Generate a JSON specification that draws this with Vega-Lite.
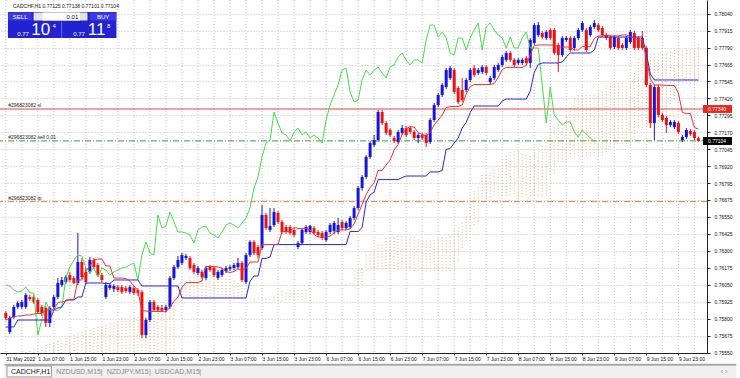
{
"$schema": "https://vega.github.io/schema/vega-lite/v6.json",
"width": 707, "height": 353,
"autosize": {"type": "none"},
"padding": {"left": 0, "top": 0, "right": 33, "bottom": 25},
"background": "white",
"config": {"view": {"stroke": null}, "font": "Liberation Sans", "text": {"font": "Liberation Sans"}, "axis": {"labelOverlap": false}},
"resolve": {"axis": {"x": "independent", "y": "independent"}},
"data": {"values": [
{"i":0,"o":0.75843,"h":0.75857,"l":0.75791,"c":0.75806,"t":0.75791,"k":0.7574,"a":0.75483,"b":0.75351,"ch":0.76048},
{"i":1,"o":0.75703,"h":0.75821,"l":0.75688,"c":0.75806,"t":0.75806,"k":0.7574,"a":0.75498,"b":0.75351,"ch":0.76041},
{"i":2,"o":0.75813,"h":0.75901,"l":0.75799,"c":0.75887,"t":0.75813,"k":0.7574,"a":0.75512,"b":0.75351,"ch":0.76011},
{"i":3,"o":0.75887,"h":0.75931,"l":0.75872,"c":0.75916,"t":0.75821,"k":0.75791,"a":0.7552,"b":0.75351,"ch":0.75997},
{"i":4,"o":0.75887,"h":0.75938,"l":0.75872,"c":0.75923,"t":0.75821,"k":0.75791,"a":0.75534,"b":0.75351,"ch":0.76004},
{"i":5,"o":0.75887,"h":0.75989,"l":0.75872,"c":0.75975,"t":0.75828,"k":0.75791,"a":0.75556,"b":0.75351,"ch":0.76033},
{"i":6,"o":0.7596,"h":0.75975,"l":0.75931,"c":0.75945,"t":0.75828,"k":0.75791,"a":0.75564,"b":0.75351,"ch":0.75989},
{"i":7,"o":0.7596,"h":0.75975,"l":0.75909,"c":0.75923,"t":0.75835,"k":0.75791,"a":0.75578,"b":0.75351,"ch":0.75989},
{"i":8,"o":0.75938,"h":0.75953,"l":0.75835,"c":0.7585,"t":0.75839,"k":0.75791,"a":0.75586,"b":0.75351,"ch":0.75681},
{"i":9,"o":0.75887,"h":0.75901,"l":0.75821,"c":0.75843,"t":0.75839,"k":0.75791,"a":0.75593,"b":0.75351,"ch":0.75791},
{"i":10,"o":0.75879,"h":0.75894,"l":0.7574,"c":0.75769,"t":0.75865,"k":0.75791,"a":0.75608,"b":0.75351,"ch":0.75923},
{"i":11,"o":0.75769,"h":0.75894,"l":0.7574,"c":0.75879,"t":0.75865,"k":0.75791,"a":0.75615,"b":0.75351,"ch":0.75865},
{"i":12,"o":0.75887,"h":0.75975,"l":0.75872,"c":0.7596,"t":0.75865,"k":0.75865,"a":0.75622,"b":0.75351,"ch":0.75865},
{"i":13,"o":0.7596,"h":0.76099,"l":0.75945,"c":0.76063,"t":0.7592,"k":0.75879,"a":0.75637,"b":0.75351,"ch":0.7586},
{"i":14,"o":0.76048,"h":0.76107,"l":0.76033,"c":0.76085,"t":0.75923,"k":0.75887,"a":0.75644,"b":0.75351,"ch":0.75887},
{"i":15,"o":0.7607,"h":0.76121,"l":0.76055,"c":0.76107,"t":0.75931,"k":0.75938,"a":0.75659,"b":0.75351,"ch":0.76099},
{"i":16,"o":0.76121,"h":0.76144,"l":0.7607,"c":0.76085,"t":0.75942,"k":0.75938,"a":0.75666,"b":0.75351,"ch":0.7618},
{"i":17,"o":0.76099,"h":0.76114,"l":0.76055,"c":0.76063,"t":0.75942,"k":0.75938,"a":0.75681,"b":0.75351,"ch":0.76232},
{"i":18,"o":0.76063,"h":0.7643,"l":0.76048,"c":0.76217,"t":0.76085,"k":0.7596,"a":0.75688,"b":0.75351,"ch":0.76268},
{"i":19,"o":0.76217,"h":0.76246,"l":0.76092,"c":0.76107,"t":0.76085,"k":0.7596,"a":0.75703,"b":0.75351,"ch":0.76261},
{"i":20,"o":0.76144,"h":0.76173,"l":0.76055,"c":0.7607,"t":0.76151,"k":0.76063,"a":0.7571,"b":0.75351,"ch":0.76173},
{"i":21,"o":0.76144,"h":0.76254,"l":0.76129,"c":0.76232,"t":0.76188,"k":0.76063,"a":0.75718,"b":0.75351,"ch":0.76144},
{"i":22,"o":0.76232,"h":0.76246,"l":0.76166,"c":0.7618,"t":0.76232,"k":0.76063,"a":0.75732,"b":0.75351,"ch":0.76173},
{"i":23,"o":0.76195,"h":0.7621,"l":0.76107,"c":0.76121,"t":0.76239,"k":0.76063,"a":0.7574,"b":0.75351,"ch":0.76107},
{"i":24,"o":0.76121,"h":0.76136,"l":0.7607,"c":0.76085,"t":0.76239,"k":0.76063,"a":0.75747,"b":0.75351,"ch":0.76173},
{"i":25,"o":0.7596,"h":0.7607,"l":0.75945,"c":0.76048,"t":0.76188,"k":0.76059,"a":0.75754,"b":0.75351,"ch":0.76158},
{"i":26,"o":0.76026,"h":0.76063,"l":0.76011,"c":0.76048,"t":0.76188,"k":0.76059,"a":0.75766,"b":0.75351,"ch":0.76121},
{"i":27,"o":0.76019,"h":0.76055,"l":0.75997,"c":0.76041,"t":0.76099,"k":0.76085,"a":0.75773,"b":0.75351,"ch":0.76144},
{"i":28,"o":0.76033,"h":0.76048,"l":0.75997,"c":0.76011,"t":0.76099,"k":0.76085,"a":0.75777,"b":0.75351,"ch":0.76158},
{"i":29,"o":0.76033,"h":0.76048,"l":0.75982,"c":0.75997,"t":0.76099,"k":0.76085,"a":0.75806,"b":0.75351,"ch":0.76173},
{"i":30,"o":0.76026,"h":0.76041,"l":0.75989,"c":0.76004,"t":0.76096,"k":0.76085,"a":0.75806,"b":0.75351,"ch":0.7618},
{"i":31,"o":0.75997,"h":0.76048,"l":0.75982,"c":0.76033,"t":0.76077,"k":0.76085,"a":0.7581,"b":0.75351,"ch":0.76195},
{"i":32,"o":0.76026,"h":0.76041,"l":0.75975,"c":0.75989,"t":0.76041,"k":0.76085,"a":0.7581,"b":0.75351,"ch":0.7621},
{"i":33,"o":0.76011,"h":0.76026,"l":0.75967,"c":0.75989,"t":0.76008,"k":0.76085,"a":0.75813,"b":0.75351,"ch":0.76085},
{"i":34,"o":0.75997,"h":0.76011,"l":0.75659,"c":0.75681,"t":0.75861,"k":0.76041,"a":0.75815,"b":0.75351,"ch":0.76268},
{"i":35,"o":0.75681,"h":0.75806,"l":0.75659,"c":0.75791,"t":0.75857,"k":0.76041,"a":0.75815,"b":0.75351,"ch":0.76364},
{"i":36,"o":0.75791,"h":0.75938,"l":0.75777,"c":0.75923,"t":0.75854,"k":0.76041,"a":0.75828,"b":0.75351,"ch":0.76283},
{"i":37,"o":0.75923,"h":0.75938,"l":0.7585,"c":0.75865,"t":0.75854,"k":0.76041,"a":0.75828,"b":0.75351,"ch":0.76268},
{"i":38,"o":0.75887,"h":0.75901,"l":0.7585,"c":0.75865,"t":0.75854,"k":0.76041,"a":0.75865,"b":0.75351,"ch":0.76562},
{"i":39,"o":0.7588,"h":0.75901,"l":0.7585,"c":0.7586,"t":0.75854,"k":0.76041,"a":0.759,"b":0.75351,"ch":0.76466},
{"i":40,"o":0.75865,"h":0.75901,"l":0.7585,"c":0.75887,"t":0.7585,"k":0.76041,"a":0.75905,"b":0.75351,"ch":0.76481},
{"i":41,"o":0.75887,"h":0.76114,"l":0.75872,"c":0.76099,"t":0.75887,"k":0.76041,"a":0.75935,"b":0.75351,"ch":0.76584},
{"i":42,"o":0.76099,"h":0.76195,"l":0.76085,"c":0.7618,"t":0.75927,"k":0.76041,"a":0.7594,"b":0.75351,"ch":0.76511},
{"i":43,"o":0.7618,"h":0.76261,"l":0.76166,"c":0.76232,"t":0.7596,"k":0.76041,"a":0.7594,"b":0.75938,"ch":0.76437},
{"i":44,"o":0.7621,"h":0.76283,"l":0.76195,"c":0.76268,"t":0.7603,"k":0.75953,"a":0.76023,"b":0.75938,"ch":0.76437},
{"i":45,"o":0.76246,"h":0.76276,"l":0.76232,"c":0.76261,"t":0.76066,"k":0.75953,"a":0.76023,"b":0.75938,"ch":0.7643},
{"i":46,"o":0.76246,"h":0.76261,"l":0.76158,"c":0.76173,"t":0.76066,"k":0.75953,"a":0.76107,"b":0.75938,"ch":0.76415},
{"i":47,"o":0.76195,"h":0.7621,"l":0.76129,"c":0.76144,"t":0.76066,"k":0.75953,"a":0.76126,"b":0.75938,"ch":0.76356},
{"i":48,"o":0.76136,"h":0.76188,"l":0.76121,"c":0.76173,"t":0.76066,"k":0.75953,"a":0.76148,"b":0.75938,"ch":0.76452},
{"i":49,"o":0.76144,"h":0.76158,"l":0.76092,"c":0.76107,"t":0.76077,"k":0.75953,"a":0.76151,"b":0.75938,"ch":0.76474},
{"i":50,"o":0.76099,"h":0.76188,"l":0.76085,"c":0.76173,"t":0.76184,"k":0.75953,"a":0.76151,"b":0.75938,"ch":0.76481},
{"i":51,"o":0.7618,"h":0.76195,"l":0.76144,"c":0.76158,"t":0.76184,"k":0.75953,"a":0.76124,"b":0.75938,"ch":0.7643},
{"i":52,"o":0.76173,"h":0.76188,"l":0.76107,"c":0.76121,"t":0.76184,"k":0.75953,"a":0.76124,"b":0.75938,"ch":0.76415},
{"i":53,"o":0.76099,"h":0.76158,"l":0.76085,"c":0.76144,"t":0.7618,"k":0.75953,"a":0.76092,"b":0.75938,"ch":0.76393},
{"i":54,"o":0.76121,"h":0.76173,"l":0.76107,"c":0.76158,"t":0.76173,"k":0.75953,"a":0.76092,"b":0.75938,"ch":0.76437},
{"i":55,"o":0.76151,"h":0.76188,"l":0.76136,"c":0.76173,"t":0.76147,"k":0.75953,"a":0.76092,"b":0.75938,"ch":0.76488},
{"i":56,"o":0.76166,"h":0.76195,"l":0.76151,"c":0.7618,"t":0.7614,"k":0.75953,"a":0.76091,"b":0.75938,"ch":0.76503},
{"i":57,"o":0.76173,"h":0.7621,"l":0.76158,"c":0.76195,"t":0.76147,"k":0.75953,"a":0.76081,"b":0.75938,"ch":0.76488},
{"i":58,"o":0.7618,"h":0.76246,"l":0.76166,"c":0.7621,"t":0.76166,"k":0.75953,"a":0.76063,"b":0.75938,"ch":0.76466},
{"i":59,"o":0.7621,"h":0.76224,"l":0.7607,"c":0.76085,"t":0.76158,"k":0.75953,"a":0.76047,"b":0.75938,"ch":0.76503},
{"i":60,"o":0.7607,"h":0.76283,"l":0.76055,"c":0.76268,"t":0.76169,"k":0.75953,"a":0.75951,"b":0.75938,"ch":0.7654},
{"i":61,"o":0.76268,"h":0.76378,"l":0.76254,"c":0.76364,"t":0.76217,"k":0.76077,"a":0.75949,"b":0.75923,"ch":0.76613},
{"i":62,"o":0.76364,"h":0.76378,"l":0.76268,"c":0.76283,"t":0.76217,"k":0.76114,"a":0.75948,"b":0.75923,"ch":0.7676},
{"i":63,"o":0.76327,"h":0.76342,"l":0.76246,"c":0.76268,"t":0.76217,"k":0.76114,"a":0.75948,"b":0.75923,"ch":0.76841},
{"i":64,"o":0.7632,"h":0.76635,"l":0.76305,"c":0.76562,"t":0.76345,"k":0.76243,"a":0.75948,"b":0.75923,"ch":0.76988},
{"i":65,"o":0.76562,"h":0.76577,"l":0.76452,"c":0.76466,"t":0.76345,"k":0.76243,"a":0.75948,"b":0.75923,"ch":0.7709},
{"i":66,"o":0.76452,"h":0.76613,"l":0.76437,"c":0.76481,"t":0.76345,"k":0.76254,"a":0.75946,"b":0.75923,"ch":0.77112},
{"i":67,"o":0.76488,"h":0.76613,"l":0.76474,"c":0.76584,"t":0.76345,"k":0.76345,"a":0.75964,"b":0.75923,"ch":0.77318},
{"i":68,"o":0.76577,"h":0.76591,"l":0.76496,"c":0.76511,"t":0.76345,"k":0.76345,"a":0.75984,"b":0.75923,"ch":0.77237},
{"i":69,"o":0.76511,"h":0.76525,"l":0.76422,"c":0.76437,"t":0.76441,"k":0.76345,"a":0.76001,"b":0.75923,"ch":0.77164},
{"i":70,"o":0.76474,"h":0.76488,"l":0.76422,"c":0.76437,"t":0.76441,"k":0.76345,"a":0.75992,"b":0.75923,"ch":0.77149},
{"i":71,"o":0.76474,"h":0.76488,"l":0.76415,"c":0.7643,"t":0.76441,"k":0.76345,"a":0.7601,"b":0.75923,"ch":0.77105},
{"i":72,"o":0.76452,"h":0.76466,"l":0.764,"c":0.76415,"t":0.7647,"k":0.76345,"a":0.7601,"b":0.75923,"ch":0.77171},
{"i":73,"o":0.76327,"h":0.76371,"l":0.76312,"c":0.76356,"t":0.76463,"k":0.76345,"a":0.7601,"b":0.75923,"ch":0.772},
{"i":74,"o":0.76356,"h":0.76466,"l":0.76342,"c":0.76452,"t":0.76463,"k":0.76345,"a":0.7601,"b":0.75923,"ch":0.77149},
{"i":75,"o":0.76437,"h":0.76488,"l":0.76422,"c":0.76474,"t":0.76463,"k":0.76345,"a":0.76015,"b":0.75923,"ch":0.77171},
{"i":76,"o":0.76437,"h":0.76488,"l":0.76422,"c":0.76481,"t":0.76452,"k":0.76345,"a":0.76069,"b":0.75923,"ch":0.77127},
{"i":77,"o":0.76466,"h":0.76481,"l":0.76415,"c":0.7643,"t":0.76419,"k":0.76345,"a":0.76069,"b":0.76044,"ch":0.77149},
{"i":78,"o":0.76437,"h":0.76452,"l":0.764,"c":0.76415,"t":0.764,"k":0.76345,"a":0.76069,"b":0.76044,"ch":0.77127},
{"i":79,"o":0.7643,"h":0.76444,"l":0.76378,"c":0.76393,"t":0.764,"k":0.76345,"a":0.76067,"b":0.76044,"ch":0.7709},
{"i":80,"o":0.76378,"h":0.76452,"l":0.76364,"c":0.76437,"t":0.764,"k":0.76345,"a":0.76063,"b":0.76044,"ch":0.77259},
{"i":81,"o":0.76437,"h":0.76503,"l":0.76422,"c":0.76488,"t":0.76408,"k":0.76345,"a":0.7605,"b":0.76044,"ch":0.77369},
{"i":82,"o":0.76444,"h":0.76518,"l":0.76422,"c":0.76503,"t":0.7643,"k":0.76345,"a":0.76047,"b":0.76044,"ch":0.77443},
{"i":83,"o":0.76437,"h":0.7654,"l":0.76422,"c":0.76488,"t":0.76452,"k":0.76345,"a":0.7605,"b":0.76044,"ch":0.77516},
{"i":84,"o":0.76511,"h":0.76525,"l":0.76452,"c":0.76466,"t":0.76452,"k":0.76345,"a":0.7606,"b":0.76044,"ch":0.77626},
{"i":85,"o":0.76466,"h":0.76518,"l":0.76452,"c":0.76503,"t":0.76452,"k":0.76345,"a":0.76056,"b":0.76044,"ch":0.77641},
{"i":86,"o":0.76474,"h":0.76555,"l":0.76459,"c":0.7654,"t":0.76459,"k":0.76441,"a":0.76061,"b":0.76044,"ch":0.77465},
{"i":87,"o":0.7654,"h":0.76628,"l":0.76525,"c":0.76613,"t":0.76496,"k":0.76441,"a":0.76147,"b":0.76044,"ch":0.77391},
{"i":88,"o":0.76613,"h":0.76775,"l":0.76599,"c":0.7676,"t":0.76569,"k":0.76441,"a":0.76166,"b":0.76044,"ch":0.77406},
{"i":89,"o":0.7676,"h":0.76855,"l":0.7674,"c":0.76841,"t":0.76639,"k":0.7647,"a":0.76166,"b":0.76044,"ch":0.77553},
{"i":90,"o":0.76841,"h":0.77002,"l":0.76826,"c":0.76988,"t":0.76712,"k":0.76657,"a":0.76294,"b":0.76147,"ch":0.77626},
{"i":91,"o":0.76988,"h":0.77105,"l":0.76973,"c":0.7709,"t":0.76764,"k":0.76709,"a":0.76294,"b":0.76147,"ch":0.77589},
{"i":92,"o":0.77076,"h":0.77149,"l":0.77061,"c":0.77112,"t":0.76797,"k":0.76731,"a":0.763,"b":0.76147,"ch":0.77626},
{"i":93,"o":0.77112,"h":0.77333,"l":0.77098,"c":0.77318,"t":0.76889,"k":0.76822,"a":0.76345,"b":0.76147,"ch":0.77648},
{"i":94,"o":0.77318,"h":0.77333,"l":0.77222,"c":0.77237,"t":0.76889,"k":0.76822,"a":0.76345,"b":0.76147,"ch":0.77604},
{"i":95,"o":0.77237,"h":0.77252,"l":0.77149,"c":0.77164,"t":0.76929,"k":0.76822,"a":0.76393,"b":0.76147,"ch":0.77567},
{"i":96,"o":0.77186,"h":0.772,"l":0.77134,"c":0.77149,"t":0.76966,"k":0.76822,"a":0.76393,"b":0.76147,"ch":0.77648},
{"i":97,"o":0.77127,"h":0.77142,"l":0.7709,"c":0.77105,"t":0.77039,"k":0.76822,"a":0.76393,"b":0.76147,"ch":0.77663},
{"i":98,"o":0.77098,"h":0.77186,"l":0.77083,"c":0.77171,"t":0.77079,"k":0.76822,"a":0.76408,"b":0.76147,"ch":0.77722},
{"i":99,"o":0.77164,"h":0.77222,"l":0.77149,"c":0.772,"t":0.77153,"k":0.76837,"a":0.76404,"b":0.76147,"ch":0.77751},
{"i":100,"o":0.772,"h":0.77215,"l":0.77134,"c":0.77149,"t":0.77197,"k":0.76848,"a":0.76404,"b":0.76147,"ch":0.777},
{"i":101,"o":0.772,"h":0.77215,"l":0.77156,"c":0.77171,"t":0.77208,"k":0.76848,"a":0.76404,"b":0.76147,"ch":0.77663},
{"i":102,"o":0.77171,"h":0.77186,"l":0.77112,"c":0.77127,"t":0.77208,"k":0.76848,"a":0.76399,"b":0.76147,"ch":0.777},
{"i":103,"o":0.77127,"h":0.77164,"l":0.7709,"c":0.77149,"t":0.77167,"k":0.76848,"a":0.76382,"b":0.76147,"ch":0.777},
{"i":104,"o":0.77149,"h":0.77164,"l":0.77112,"c":0.77127,"t":0.77153,"k":0.76848,"a":0.76373,"b":0.76147,"ch":0.77678},
{"i":105,"o":0.77149,"h":0.77164,"l":0.77061,"c":0.7709,"t":0.77142,"k":0.76848,"a":0.76373,"b":0.76147,"ch":0.77846},
{"i":106,"o":0.77098,"h":0.77274,"l":0.77083,"c":0.77259,"t":0.77167,"k":0.76878,"a":0.76373,"b":0.76147,"ch":0.77956},
{"i":107,"o":0.77259,"h":0.77384,"l":0.77245,"c":0.77369,"t":0.77223,"k":0.76878,"a":0.76377,"b":0.76147,"ch":0.77956},
{"i":108,"o":0.77369,"h":0.77457,"l":0.77355,"c":0.77443,"t":0.77259,"k":0.76878,"a":0.76388,"b":0.76147,"ch":0.77868},
{"i":109,"o":0.77443,"h":0.77531,"l":0.77428,"c":0.77516,"t":0.77296,"k":0.76889,"a":0.76399,"b":0.76147,"ch":0.77905},
{"i":110,"o":0.77501,"h":0.77641,"l":0.77487,"c":0.77626,"t":0.77351,"k":0.77043,"a":0.76399,"b":0.76147,"ch":0.77861},
{"i":111,"o":0.77567,"h":0.77656,"l":0.77553,"c":0.77641,"t":0.77358,"k":0.7705,"a":0.76399,"b":0.76147,"ch":0.77751},
{"i":112,"o":0.77626,"h":0.77641,"l":0.7745,"c":0.77465,"t":0.77358,"k":0.7709,"a":0.7645,"b":0.76147,"ch":0.77736},
{"i":113,"o":0.77494,"h":0.77509,"l":0.77377,"c":0.77391,"t":0.77358,"k":0.77127,"a":0.76469,"b":0.76206,"ch":0.77861},
{"i":114,"o":0.7748,"h":0.77567,"l":0.77391,"c":0.77406,"t":0.77369,"k":0.772,"a":0.76505,"b":0.76312,"ch":0.77861},
{"i":115,"o":0.77479,"h":0.77567,"l":0.77465,"c":0.77553,"t":0.7745,"k":0.77241,"a":0.76555,"b":0.76353,"ch":0.77773},
{"i":116,"o":0.77553,"h":0.77641,"l":0.77538,"c":0.77626,"t":0.77505,"k":0.77314,"a":0.76685,"b":0.76426,"ch":0.77861},
{"i":117,"o":0.77641,"h":0.77663,"l":0.77575,"c":0.77589,"t":0.7752,"k":0.77362,"a":0.76737,"b":0.76478,"ch":0.7792},
{"i":118,"o":0.77604,"h":0.77641,"l":0.77589,"c":0.77626,"t":0.7752,"k":0.77362,"a":0.76764,"b":0.76511,"ch":0.77971},
{"i":119,"o":0.77612,"h":0.77663,"l":0.77597,"c":0.77648,"t":0.7752,"k":0.77362,"a":0.76856,"b":0.76694,"ch":0.77773},
{"i":120,"o":0.77648,"h":0.77663,"l":0.77589,"c":0.77604,"t":0.7752,"k":0.77362,"a":0.76856,"b":0.76694,"ch":0.77942},
{"i":121,"o":0.77538,"h":0.77582,"l":0.77523,"c":0.77567,"t":0.7752,"k":0.77362,"a":0.76876,"b":0.76694,"ch":0.77971},
{"i":122,"o":0.77567,"h":0.77663,"l":0.77553,"c":0.77648,"t":0.77527,"k":0.77362,"a":0.76894,"b":0.76694,"ch":0.7792},
{"i":123,"o":0.77626,"h":0.77678,"l":0.77612,"c":0.77663,"t":0.77571,"k":0.77362,"a":0.76931,"b":0.76694,"ch":0.77883},
{"i":124,"o":0.77663,"h":0.77736,"l":0.77648,"c":0.77722,"t":0.7763,"k":0.77399,"a":0.76951,"b":0.76694,"ch":0.77861},
{"i":125,"o":0.777,"h":0.77766,"l":0.77685,"c":0.77751,"t":0.77645,"k":0.77413,"a":0.76995,"b":0.76694,"ch":0.77788},
{"i":126,"o":0.77751,"h":0.77766,"l":0.77685,"c":0.777,"t":0.77645,"k":0.77413,"a":0.77023,"b":0.76694,"ch":0.77868},
{"i":127,"o":0.777,"h":0.77714,"l":0.77648,"c":0.77663,"t":0.77645,"k":0.77413,"a":0.77028,"b":0.76694,"ch":0.77788},
{"i":128,"o":0.77678,"h":0.77714,"l":0.77663,"c":0.777,"t":0.77645,"k":0.77413,"a":0.77028,"b":0.76694,"ch":0.77788},
{"i":129,"o":0.77678,"h":0.77714,"l":0.77663,"c":0.777,"t":0.77645,"k":0.77413,"a":0.77008,"b":0.76694,"ch":0.77861},
{"i":130,"o":0.77714,"h":0.77729,"l":0.77663,"c":0.77678,"t":0.77659,"k":0.77413,"a":0.77001,"b":0.76694,"ch":0.77905},
{"i":131,"o":0.77678,"h":0.77861,"l":0.77641,"c":0.77846,"t":0.77736,"k":0.77472,"a":0.76995,"b":0.76694,"ch":0.77788},
{"i":132,"o":0.77824,"h":0.77971,"l":0.7781,"c":0.77956,"t":0.77806,"k":0.77608,"a":0.77023,"b":0.76694,"ch":0.77788},
{"i":133,"o":0.77883,"h":0.77979,"l":0.77868,"c":0.77956,"t":0.7781,"k":0.77667,"a":0.77051,"b":0.76694,"ch":0.77788},
{"i":134,"o":0.77898,"h":0.77912,"l":0.77854,"c":0.77868,"t":0.7781,"k":0.77678,"a":0.77069,"b":0.76694,"ch":0.77516},
{"i":135,"o":0.77861,"h":0.7792,"l":0.77846,"c":0.77905,"t":0.7781,"k":0.77678,"a":0.77093,"b":0.76694,"ch":0.77237},
{"i":136,"o":0.7792,"h":0.77934,"l":0.77846,"c":0.77861,"t":0.7781,"k":0.77678,"a":0.77197,"b":0.76848,"ch":0.77501},
{"i":137,"o":0.7792,"h":0.77934,"l":0.77736,"c":0.77751,"t":0.7781,"k":0.77678,"a":0.77204,"b":0.76856,"ch":0.77296},
{"i":138,"o":0.7781,"h":0.77824,"l":0.77612,"c":0.77736,"t":0.77795,"k":0.77678,"a":0.77224,"b":0.76951,"ch":0.77259},
{"i":139,"o":0.77736,"h":0.77876,"l":0.77722,"c":0.77861,"t":0.77795,"k":0.77685,"a":0.77243,"b":0.76951,"ch":0.77222},
{"i":140,"o":0.77846,"h":0.77876,"l":0.77832,"c":0.77861,"t":0.77795,"k":0.77722,"a":0.77285,"b":0.76951,"ch":0.77245},
{"i":141,"o":0.77861,"h":0.77876,"l":0.77758,"c":0.77773,"t":0.77795,"k":0.77751,"a":0.77346,"b":0.7698,"ch":0.77245},
{"i":142,"o":0.77788,"h":0.77876,"l":0.77773,"c":0.77861,"t":0.77773,"k":0.77751,"a":0.7741,"b":0.76984,"ch":0.77171},
{"i":143,"o":0.77861,"h":0.77934,"l":0.77846,"c":0.7792,"t":0.77773,"k":0.77751,"a":0.77441,"b":0.76988,"ch":0.77134},
{"i":144,"o":0.7792,"h":0.77986,"l":0.77905,"c":0.77971,"t":0.77799,"k":0.77751,"a":0.77441,"b":0.76988,"ch":0.77186},
{"i":145,"o":0.7792,"h":0.77934,"l":0.77758,"c":0.77773,"t":0.77799,"k":0.77751,"a":0.77441,"b":0.76988,"ch":0.77156},
{"i":146,"o":0.77883,"h":0.77956,"l":0.77868,"c":0.77942,"t":0.77799,"k":0.77751,"a":0.77441,"b":0.76988,"ch":0.77127},
{"i":147,"o":0.77942,"h":0.77993,"l":0.77927,"c":0.77971,"t":0.77857,"k":0.77773,"a":0.77441,"b":0.76988,"ch":0.77104},
{"i":148,"o":0.77956,"h":0.77971,"l":0.77905,"c":0.7792,"t":0.77876,"k":0.77868,"a":0.77445,"b":0.76988},
{"i":149,"o":0.77934,"h":0.77949,"l":0.77868,"c":0.77883,"t":0.77876,"k":0.77868,"a":0.77467,"b":0.76995},
{"i":150,"o":0.77883,"h":0.77898,"l":0.77846,"c":0.77861,"t":0.77883,"k":0.77868,"a":0.77515,"b":0.77024},
{"i":151,"o":0.77868,"h":0.77883,"l":0.77773,"c":0.77788,"t":0.77876,"k":0.77868,"a":0.77529,"b":0.77054},
{"i":152,"o":0.77795,"h":0.77883,"l":0.7778,"c":0.77868,"t":0.77876,"k":0.77868,"a":0.77529,"b":0.77065},
{"i":153,"o":0.77861,"h":0.77876,"l":0.77773,"c":0.77788,"t":0.77876,"k":0.77868,"a":0.77529,"b":0.77065},
{"i":154,"o":0.7781,"h":0.77824,"l":0.77773,"c":0.77788,"t":0.77883,"k":0.77868,"a":0.77529,"b":0.77065},
{"i":155,"o":0.77788,"h":0.77876,"l":0.77773,"c":0.77861,"t":0.77883,"k":0.77868,"a":0.77529,"b":0.77065},
{"i":156,"o":0.77832,"h":0.7792,"l":0.77817,"c":0.77905,"t":0.77872,"k":0.77868,"a":0.77536,"b":0.77065},
{"i":157,"o":0.77898,"h":0.77912,"l":0.77773,"c":0.77788,"t":0.77861,"k":0.77868,"a":0.77604,"b":0.77112},
{"i":158,"o":0.77861,"h":0.77876,"l":0.77773,"c":0.77788,"t":0.77846,"k":0.77868,"a":0.77707,"b":0.77197},
{"i":159,"o":0.77861,"h":0.77912,"l":0.77773,"c":0.77788,"t":0.77846,"k":0.77868,"a":0.77739,"b":0.772},
{"i":160,"o":0.77788,"h":0.77802,"l":0.77501,"c":0.77516,"t":0.77711,"k":0.77747,"a":0.77744,"b":0.772},
{"i":161,"o":0.77516,"h":0.77531,"l":0.772,"c":0.77237,"t":0.7756,"k":0.77597,"a":0.77744,"b":0.77212},
{"i":162,"o":0.77237,"h":0.77516,"l":0.77112,"c":0.77501,"t":0.77516,"k":0.77553,"a":0.77744,"b":0.77212},
{"i":163,"o":0.77501,"h":0.77516,"l":0.77281,"c":0.77296,"t":0.77516,"k":0.77553,"a":0.77744,"b":0.77212},
{"i":164,"o":0.77296,"h":0.77311,"l":0.77245,"c":0.77259,"t":0.77516,"k":0.77553,"a":0.77737,"b":0.77252},
{"i":165,"o":0.77274,"h":0.77289,"l":0.77164,"c":0.77222,"t":0.77512,"k":0.77553,"a":0.7774,"b":0.77289},
{"i":166,"o":0.77222,"h":0.77259,"l":0.77208,"c":0.77245,"t":0.77512,"k":0.77553,"a":0.77759,"b":0.77362},
{"i":167,"o":0.77208,"h":0.77259,"l":0.77193,"c":0.77245,"t":0.77512,"k":0.77553,"a":0.77773,"b":0.77402},
{"i":168,"o":0.77237,"h":0.77252,"l":0.77156,"c":0.77171,"t":0.77457,"k":0.77553,"a":0.77762,"b":0.77476},
{"i":169,"o":0.77112,"h":0.77149,"l":0.77098,"c":0.77134,"t":0.77314,"k":0.77553,"a":0.77762,"b":0.7752},
{"i":170,"o":0.77134,"h":0.772,"l":0.7712,"c":0.77186,"t":0.77307,"k":0.77553,"a":0.77775,"b":0.77523},
{"i":171,"o":0.77178,"h":0.77193,"l":0.77142,"c":0.77156,"t":0.77307,"k":0.77553,"a":0.77775,"b":0.77523},
{"i":172,"o":0.77171,"h":0.77186,"l":0.77112,"c":0.77127,"t":0.77204,"k":0.77553,"a":0.77775,"b":0.77523},
{"i":173,"o":0.77125,"h":0.77138,"l":0.77101,"c":0.77104,"t":0.77193,"k":0.77553,"a":0.77815,"b":0.77527}
]},
"layer": [
{"mark": {"type": "rule", "color": "#f4a460", "strokeDash": [1, 2], "strokeWidth": 1, "opacity": 0.9, "clip": true},
 "encoding": {
  "x": {"field": "i", "type": "quantitative", "title": null,
   "scale": {"domain": [-0.2, 173.9], "nice": false, "zero": false},
   "axis": {"values": [0,8,16,24,32,40,48,56,64,72,80,88,96,104,112,120,128,136,144,152,160,168],
    "labelExpr": "['31 May 2022','1 Jun 07:00','1 Jun 15:00','1 Jun 23:00','2 Jun 07:00','2 Jun 15:00','2 Jun 23:00','3 Jun 07:00','3 Jun 15:00','3 Jun 23:00','6 Jun 07:00','6 Jun 15:00','6 Jun 23:00','7 Jun 07:00','7 Jun 15:00','7 Jun 23:00','8 Jun 07:00','8 Jun 15:00','8 Jun 23:00','9 Jun 07:00','9 Jun 15:00','9 Jun 23:00'][round(datum.value / 8)]",
    "grid": false,
    "domainColor": "#222222", "domainWidth": 1,
    "tickColor": "#222222", "tickSize": 2,
    "labelAlign": "left", "labelBaseline": "top", "labelFontSize": 5, "labelPadding": 1, "labelColor": "#111111",
    "labelOverlap": false, "labelBound": false, "labelFlush": false}},
  "y": {"field": "a", "type": "quantitative", "title": null,
   "scale": {"domain": [0.75549, 0.7814], "nice": false, "zero": false},
   "axis": {"orient": "right", "values": [0.7804,0.77915,0.7779,0.77665,0.77545,0.7742,0.77295,0.7717,0.77045,0.7692,0.76795,0.76675,0.7655,0.76425,0.763,0.76175,0.7605,0.75925,0.758,0.75675,0.7555],
    "format": ".5f", "grid": true, "gridColor": "#c4c4c4", "gridDash": [1, 2], "gridWidth": 1,
    "domainColor": "#222222", "domainWidth": 1, "tickColor": "#222222", "tickSize": 3,
    "labelFontSize": 5, "labelPadding": 4, "labelColor": "#111111", "labelOverlap": false, "labelBound": false, "labelFlush": false}},
  "y2": {"field": "b"}}},
{"transform": [{"filter": "datum.i % 4 == 0"}],
 "mark": {"type": "rule", "color": "#c4c4c4", "strokeDash": [1, 2], "strokeWidth": 1},
 "encoding": {"x": {"field": "i", "type": "quantitative", "axis": null}}},
{"data": {"values": [{}]}, "mark": {"type": "rule", "color": "#ee4040", "strokeWidth": 1},
 "encoding": {"y": {"datum": 0.7734, "type": "quantitative", "axis": null}}},
{"data": {"values": [{}]}, "mark": {"type": "rule", "color": "#3a9a3a", "strokeWidth": 1, "strokeDash": [6, 2, 1, 2]},
 "encoding": {"y": {"datum": 0.77106, "type": "quantitative", "axis": null}}},
{"data": {"values": [{}]}, "mark": {"type": "rule", "color": "#f07a40", "strokeWidth": 1, "strokeDash": [6, 2, 1, 2]},
 "encoding": {"y": {"datum": 0.7666, "type": "quantitative", "axis": null}}},
{"data": {"values": [{"txt": "#296823082 sl", "p": 0.7734}, {"txt": "#296823082 sell 0.01", "p": 0.77106}, {"txt": "#296823082 tp", "p": 0.7666}]},
 "mark": {"type": "text", "align": "left", "baseline": "bottom", "dy": -1, "fontSize": 5, "color": "#222222"},
 "encoding": {"x": {"datum": 0.6, "type": "quantitative", "axis": null}, "y": {"field": "p", "type": "quantitative", "axis": null}, "text": {"field": "txt"}}},
{"mark": {"type": "rule", "strokeWidth": 1},
 "encoding": {"x": {"field": "i", "type": "quantitative", "axis": null}, "y": {"field": "l", "type": "quantitative", "axis": null}, "y2": {"field": "h"},
  "color": {"condition": {"test": "datum.c < datum.o", "value": "#ee1111"}, "value": "#1414dd"}}},
{"mark": {"type": "bar", "width": 3},
 "encoding": {"x": {"field": "i", "type": "quantitative", "axis": null}, "y": {"field": "o", "type": "quantitative", "axis": null}, "y2": {"field": "c"},
  "color": {"condition": {"test": "datum.c < datum.o", "value": "#ee1111"}, "value": "#1414dd"}}},
{"transform": [{"filter": "isValid(datum.ch)"}],
 "mark": {"type": "line", "color": "#44dd44", "strokeWidth": 1},
 "encoding": {"x": {"field": "i", "type": "quantitative", "axis": null}, "y": {"field": "ch", "type": "quantitative", "axis": null}}},
{"mark": {"type": "line", "color": "#2525f0", "strokeWidth": 1},
 "encoding": {"x": {"field": "i", "type": "quantitative", "axis": null}, "y": {"field": "k", "type": "quantitative", "axis": null}}},
{"mark": {"type": "line", "color": "#f03030", "strokeWidth": 1},
 "encoding": {"x": {"field": "i", "type": "quantitative", "axis": null}, "y": {"field": "t", "type": "quantitative", "axis": null}}},
{"data": {"values": [{}]}, "mark": {"type": "rect", "color": "#e8271f"},
 "encoding": {"x": {"datum": 174.15, "type": "quantitative", "axis": null}, "x2": {"datum": 181.4}, "y": {"datum": 0.77369, "type": "quantitative", "axis": null}, "y2": {"datum": 0.77311}}},
{"data": {"values": [{}]}, "mark": {"type": "rect", "color": "#000000"},
 "encoding": {"x": {"datum": 174.15, "type": "quantitative", "axis": null}, "x2": {"datum": 181.4}, "y": {"datum": 0.77134, "type": "quantitative", "axis": null}, "y2": {"datum": 0.77076}}},
{"data": {"values": [{"txt": "0.77340", "p": 0.7734}, {"txt": "0.77104", "p": 0.77105}]},
 "mark": {"type": "text", "align": "left", "baseline": "middle", "fontSize": 5, "color": "#ffffff"},
 "encoding": {"x": {"datum": 175.4, "type": "quantitative", "axis": null}, "y": {"field": "p", "type": "quantitative", "axis": null}, "text": {"field": "txt"}}},
{"data": {"values": [{}]}, "mark": {"type": "text", "align": "left", "baseline": "middle", "fontSize": 5, "color": "#111111", "text": "CADCHF,H1  0.77125 0.77138 0.77101 0.77104"},
 "encoding": {"x": {"datum": 1.8, "type": "quantitative", "axis": null}, "y": {"datum": 0.78096, "type": "quantitative", "axis": null}}},
{"data": {"values": [{}]}, "mark": {"type": "rect", "color": "#2222d2"},
 "encoding": {"x": {"datum": 0.54, "type": "quantitative", "axis": null}, "x2": {"datum": 27.63}, "y": {"datum": 0.78052, "type": "quantitative", "axis": null}, "y2": {"datum": 0.77861}}},
{"data": {"values": [{}]}, "mark": {"type": "rect", "color": "#3a3ae6"},
 "encoding": {"x": {"datum": 0.6, "type": "quantitative", "axis": null}, "x2": {"datum": 6.5}, "y": {"datum": 0.78048, "type": "quantitative", "axis": null}, "y2": {"datum": 0.7799}}},
{"data": {"values": [{}]}, "mark": {"type": "rect", "color": "#3a3ae6"},
 "encoding": {"x": {"datum": 21.0, "type": "quantitative", "axis": null}, "x2": {"datum": 27.6}, "y": {"datum": 0.78048, "type": "quantitative", "axis": null}, "y2": {"datum": 0.7799}}},
{"data": {"values": [{}]}, "mark": {"type": "rect", "color": "#e4e4e4"},
 "encoding": {"x": {"datum": 6.94, "type": "quantitative", "axis": null}, "x2": {"datum": 20.4}, "y": {"datum": 0.78048, "type": "quantitative", "axis": null}, "y2": {"datum": 0.7799}}},
{"data": {"values": [{}]}, "mark": {"type": "rect", "color": "#ffffff"},
 "encoding": {"x": {"datum": 9.16, "type": "quantitative", "axis": null}, "x2": {"datum": 18.51}, "y": {"datum": 0.78048, "type": "quantitative", "axis": null}, "y2": {"datum": 0.7799}}},
{"data": {"values": [{}]}, "mark": {"type": "rule", "color": "#6a6ae8", "strokeWidth": 1},
 "encoding": {"x": {"datum": 13.95, "type": "quantitative", "axis": null}, "y": {"datum": 0.7798, "type": "quantitative", "axis": null}, "y2": {"datum": 0.77862}}},
{"data": {"values": [{"txt": "SELL", "x": 3.6, "p": 0.78018, "s": 6}, {"txt": "BUY", "x": 24.3, "p": 0.78018, "s": 6}, {"txt": "0.77", "x": 4.3, "p": 0.77888, "s": 6}, {"txt": "0.77", "x": 18.3, "p": 0.77888, "s": 6}, {"txt": "4", "x": 12.1, "p": 0.77952, "s": 6}, {"txt": "8", "x": 25.7, "p": 0.77952, "s": 6}]},
 "mark": {"type": "text", "align": "center", "baseline": "middle", "color": "#ffffff"},
 "encoding": {"x": {"field": "x", "type": "quantitative", "axis": null}, "y": {"field": "p", "type": "quantitative", "axis": null}, "text": {"field": "txt"}, "size": {"field": "s", "type": "quantitative", "scale": null, "legend": null}}},
{"data": {"values": [{"txt": "10", "x": 8.7}, {"txt": "11", "x": 22.7}]},
 "mark": {"type": "text", "align": "center", "baseline": "middle", "color": "#ffffff", "fontSize": 17},
 "encoding": {"x": {"field": "x", "type": "quantitative", "axis": null}, "y": {"datum": 0.77917, "type": "quantitative", "axis": null}, "text": {"field": "txt"}}},
{"data": {"values": [{}]}, "mark": {"type": "text", "align": "right", "baseline": "middle", "fontSize": 6, "color": "#111111", "text": "0.01"},
 "encoding": {"x": {"datum": 18.1, "type": "quantitative", "axis": null}, "y": {"datum": 0.78018, "type": "quantitative", "axis": null}}},
{"data": {"values": [{}]}, "mark": {"type": "rect", "color": "#f0f0f0"},
 "encoding": {"x": {"datum": -0.3, "type": "quantitative", "axis": null}, "x2": {"datum": 182.5}, "y": {"datum": 0.75457, "type": "quantitative", "axis": null}, "y2": {"datum": 0.7535}}},
{"data": {"values": [{}]}, "mark": {"type": "rect", "color": "#a8a8a8"},
 "encoding": {"x": {"datum": -0.3, "type": "quantitative", "axis": null}, "x2": {"datum": 182.5}, "y": {"datum": 0.7547, "type": "quantitative", "axis": null}, "y2": {"datum": 0.75455}}},
{"data": {"values": [{}]}, "mark": {"type": "rect", "color": "#ffffff", "stroke": "#9a9a9a", "strokeWidth": 1},
 "encoding": {"x": {"datum": 0.3, "type": "quantitative", "axis": null}, "x2": {"datum": 11.4}, "y": {"datum": 0.75454, "type": "quantitative", "axis": null}, "y2": {"datum": 0.75373}}},
{"data": {"values": [{"txt": "CADCHF,H1", "x": 1.3, "g": "a"}, {"txt": "NZDUSD,M15", "x": 12.6, "g": "b"}, {"txt": "|", "x": 23.7, "g": "b"}, {"txt": "NZDJPY,M15", "x": 25.2, "g": "b"}, {"txt": "|", "x": 35.8, "g": "b"}, {"txt": "USDCAD,M15", "x": 37.2, "g": "b"}, {"txt": "|", "x": 48.3, "g": "b"}, {"txt": "‹  ›", "x": 178.6, "g": "b"}]},
 "mark": {"type": "text", "align": "left", "baseline": "middle", "fontSize": 7},
 "encoding": {"x": {"field": "x", "type": "quantitative", "axis": null}, "y": {"datum": 0.75411, "type": "quantitative", "axis": null}, "text": {"field": "txt"},
  "color": {"field": "g", "type": "nominal", "scale": {"domain": ["a", "b"], "range": ["#111111", "#8a8a8a"]}, "legend": null}}}
]
}
